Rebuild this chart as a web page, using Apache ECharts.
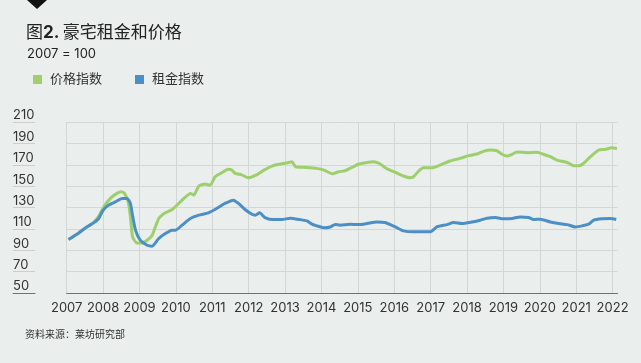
<!DOCTYPE html>
<html>
<head>
<meta charset="utf-8">
<script src="https://cdn.jsdelivr.net/npm/echarts@6/dist/echarts.min.js"></script>
<style>
html,body{margin:0;padding:0;background:#eaeeed;}
#c{width:641px;height:363px;}
</style>
</head>
<body>
<div id="c"></div>
<script>
// ---- data ----
const yearTicks = [2007,2008,2009,2010,2011,2012,2013,2014,2015,2016,2017,2018,2019,2020,2021,2022];
const yTicks = [50,70,90,110,130,150,170,190,210];

const priceYears = [2007.05,2007.33,2007.56,2007.74,2007.88,2008.02,2008.2,2008.38,2008.5,2008.59,2008.7,2008.77,2008.81,2008.93,2009.07,2009.21,2009.35,2009.53,2009.71,2009.9,2010.03,2010.22,2010.4,2010.49,2010.63,2010.8,2010.94,2011.08,2011.26,2011.44,2011.54,2011.63,2011.81,2011.99,2012.2,2012.42,2012.64,2012.86,2013.06,2013.19,2013.29,2013.6,2013.87,2014.07,2014.3,2014.47,2014.65,2014.88,2015.01,2015.25,2015.43,2015.59,2015.8,2016.02,2016.25,2016.44,2016.53,2016.67,2016.8,2017.04,2017.26,2017.53,2017.81,2018.04,2018.27,2018.45,2018.64,2018.82,2018.96,2019.1,2019.24,2019.37,2019.65,2019.92,2020.1,2020.29,2020.47,2020.75,2020.93,2021.07,2021.2,2021.39,2021.62,2021.8,2021.98,2022.12];
const priceValues = [100,106.2,111.9,116,121.9,130.6,138.5,143.2,144.7,143.2,133.8,115,102.5,96.8,96.8,99.4,104.1,119.7,125,128.2,132.2,138.5,143.2,141.6,150,151.9,150.9,158.7,162.5,165.7,165,161.9,160.5,157.8,160.3,165,168.8,170.6,171.9,172.8,168.1,167.5,166.6,165,161.5,163.4,164.4,168.1,170.5,172.2,172.8,171.2,166.2,163,159.5,157.8,158.8,164.1,167.2,167.2,169.7,173.5,176,178.5,180,182.5,183.8,183.1,179.8,178.1,179.8,181.9,181.3,181.6,179.8,177.5,174.4,172.2,169,169,171.2,177.5,183.8,184.4,185.9,185.3];

const rentYears = [2007.05,2007.33,2007.56,2007.74,2007.88,2007.99,2008.15,2008.34,2008.52,2008.66,2008.75,2008.8,2008.89,2009.02,2009.21,2009.34,2009.53,2009.71,2009.89,2009.99,2010.17,2010.4,2010.63,2010.89,2011.12,2011.35,2011.58,2011.72,2011.9,2012.09,2012.18,2012.3,2012.45,2012.68,2012.91,2013.14,2013.41,2013.6,2013.74,2013.91,2014.07,2014.24,2014.38,2014.51,2014.79,2015.02,2015.25,2015.52,2015.75,2016.03,2016.25,2016.53,2016.99,2017.18,2017.45,2017.63,2017.86,2018.14,2018.36,2018.55,2018.78,2019.0,2019.24,2019.46,2019.69,2019.83,2020.01,2020.29,2020.52,2020.75,2020.98,2021.16,2021.34,2021.48,2021.71,2021.94,2022.1];
const rentValues = [100,106.2,111.9,115.6,119.7,126.9,132.2,135.3,138.5,138.5,133.8,124.4,108.8,99.4,94.7,93.8,101,105.6,108.8,108.8,113.5,119.7,122.8,125,129.1,133.8,136.9,133.8,128.1,123.7,122.8,125,120.6,118.7,118.7,120,118.7,117.4,114.5,112.5,111,111.8,114.2,113.5,114.4,114,115,116.5,115.9,111.8,108.1,107.2,107.2,112,114,115.9,115,116.5,118.1,120,120.6,119.4,119.7,121.2,120.6,118.7,119.1,116.5,115,114,111.8,112.8,114.4,118.1,119.4,119.7,118.7];

const seriesNames = ['价格指数','租金指数'];
const colors = ['#9dcf6c','#4b8fc6'];

// ---- chart ----
const FONT = "Inter, 'Noto Sans CJK SC', sans-serif";
const chart = echarts.init(document.getElementById('c'), null, {renderer:'canvas'});
const xMin = yearTicks[0], xMax = yearTicks[yearTicks.length-1] + 0.14;
const yMin = yTicks[0], yMax = yTicks[yTicks.length-1];

chart.setOption({
  backgroundColor:'#eaeeed',
  animation:false,
  textStyle:{fontFamily:FONT},
  graphic:[
    {type:'polygon', shape:{points:[[27,0],[47,0],[37,9]]}, style:{fill:'#111'}},
    {type:'text', left:26, top:24, style:{
      text:'{a|图}{b|2.} {a|豪宅租金和价格}',
      rich:{a:{fontSize:17, fontFamily:FONT, fill:'#222'}, b:{fontSize:17, fontWeight:'bold', fontFamily:FONT, fill:'#222'}}
    }},
    {type:'text', left:27, top:48, style:{text:'2007 = 100', fontSize:13, fontFamily:FONT, fill:'#222'}},
    {type:'text', left:25, top:329, style:{text:'资料来源：莱坊研究部', fontSize:10, fontFamily:"'Noto Sans CJK SC', sans-serif", fill:'#333'}}
  ],
  legend:{
    left:28, top:68, icon:'rect', itemWidth:9, itemHeight:9, itemGap:33,
    textStyle:{fontSize:13, color:'#333', fontFamily:FONT, padding:[0,0,0,3]},
    data:seriesNames
  },
  grid:[
    {left:66.7, top:122, width:551, height:171},
    {left:13, top:122, width:22, height:171}
  ],
  xAxis:[
    {type:'value', gridIndex:0, min:xMin, max:xMax, interval:1,
     axisLine:{show:true, lineStyle:{color:'#6f7373', width:1}},
     axisTick:{show:false},
     axisLabel:{color:'#333', fontSize:13, margin:9, showMaxLabel:false,
       formatter:v=> (Math.abs(v-Math.round(v))<1e-6 ? String(Math.round(v)) : '')},
     splitLine:{show:true, showMaxLine:false, lineStyle:{color:'#d3d8d7', width:1}}
    },
    {type:'value', gridIndex:1, min:0, max:1,
     axisLine:{show:true, lineStyle:{color:'#6f7373', width:1}},
     axisTick:{show:false}, axisLabel:{show:false}, splitLine:{show:false}
    }
  ],
  yAxis:[
    {type:'value', gridIndex:0, min:yMin, max:yMax, interval:20,
     axisLine:{show:false}, axisTick:{show:false},
     axisLabel:{color:'#333', fontSize:13, align:'left', margin:53.7, verticalAlign:'bottom', lineHeight:13, padding:[0,0,0,0]},
     splitLine:{show:true, lineStyle:{color:'#d3d8d7', width:1}}
    },
    {type:'value', gridIndex:1, min:yMin, max:yMax, interval:20,
     axisLine:{show:false}, axisTick:{show:false}, axisLabel:{show:false},
     splitLine:{show:true, lineStyle:{color:'#c9cfce', width:1}}
    }
  ],
  series:[
    {name:seriesNames[0], type:'line', xAxisIndex:0, yAxisIndex:0, showSymbol:false, smooth:0.2,
     lineStyle:{width:3, color:colors[0]}, itemStyle:{color:colors[0]},
     data:priceYears.map((x,i)=>[x,priceValues[i]])},
    {name:seriesNames[1], type:'line', xAxisIndex:0, yAxisIndex:0, showSymbol:false, smooth:0.2,
     lineStyle:{width:3, color:colors[1]}, itemStyle:{color:colors[1]},
     data:rentYears.map((x,i)=>[x,rentValues[i]])}
  ]
});
</script>
</body>
</html>
